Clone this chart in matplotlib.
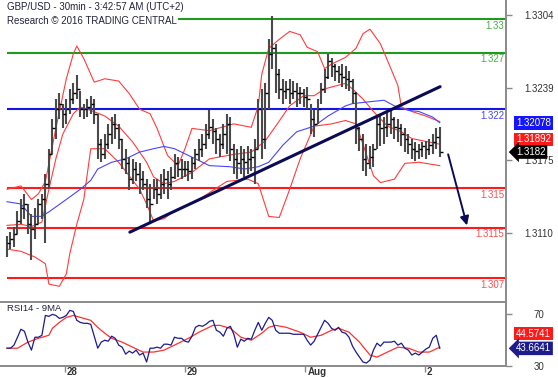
import matplotlib
matplotlib.use("Agg")
import matplotlib.pyplot as plt
import matplotlib.transforms as mtransforms
import numpy as np

plt.rcParams["font.family"] = ["Liberation Sans", "DejaVu Sans"]

# ---------------------------------------------------------------------------
# Price bars (30min GBP/USD)
# ---------------------------------------------------------------------------
high = [1.3108, 1.3111, 1.3116, 1.3130, 1.3140, 1.3145, 1.3136, 1.3127, 1.3132, 1.3140,
        1.3145, 1.3163, 1.3185, 1.3211, 1.3229, 1.3234, 1.3225, 1.3229, 1.3238, 1.3243,
        1.3250, 1.3236, 1.3225, 1.3229, 1.3232, 1.3229, 1.3216, 1.3194, 1.3198, 1.3207,
        1.3213, 1.3216, 1.3207, 1.3194, 1.3185, 1.3178, 1.3176, 1.3173, 1.3172, 1.3165,
        1.3158, 1.3154, 1.3158, 1.3158, 1.3163, 1.3167, 1.3165, 1.3169, 1.3180, 1.3178,
        1.3176, 1.3174, 1.3174, 1.3178, 1.3185, 1.3194, 1.3198, 1.3207, 1.3219, 1.3211,
        1.3203, 1.3198, 1.3207, 1.3216, 1.3213, 1.3189, 1.3185, 1.3187, 1.3185, 1.3187,
        1.3185, 1.3194, 1.3229, 1.3238, 1.3243, 1.3282, 1.3303, 1.3278, 1.3256, 1.3247,
        1.3245, 1.3247, 1.3245, 1.3243, 1.3240, 1.3238, 1.3240, 1.3225, 1.3219, 1.3229,
        1.3243, 1.3256, 1.3269, 1.3265, 1.3260, 1.3258, 1.3260, 1.3258, 1.3254, 1.3247,
        1.3235, 1.3204, 1.3198, 1.3189, 1.3187, 1.3189, 1.3213, 1.3216, 1.3213, 1.3218,
        1.3219, 1.3213, 1.3211, 1.3207, 1.3203, 1.3198, 1.3194, 1.3191, 1.3189, 1.3191,
        1.3192, 1.3194, 1.3198, 1.3203, 1.3204]
low = [1.3089, 1.3096, 1.3098, 1.3109, 1.3118, 1.3123, 1.3109, 1.3086, 1.3105, 1.3118,
       1.3123, 1.3101, 1.3149, 1.3180, 1.3194, 1.3211, 1.3203, 1.3207, 1.3216, 1.3225,
       1.3229, 1.3213, 1.3211, 1.3213, 1.3216, 1.3207, 1.3176, 1.3173, 1.3176, 1.3185,
       1.3189, 1.3194, 1.3185, 1.3167, 1.3163, 1.3148, 1.3154, 1.3156, 1.3145, 1.3148,
       1.3132, 1.3118, 1.3140, 1.3136, 1.3140, 1.3145, 1.3140, 1.3148, 1.3158, 1.3160,
       1.3158, 1.3160, 1.3156, 1.3158, 1.3167, 1.3174, 1.3178, 1.3185, 1.3194, 1.3189,
       1.3180, 1.3178, 1.3185, 1.3180, 1.3174, 1.3163, 1.3158, 1.3163, 1.3160, 1.3163,
       1.3165, 1.3154, 1.3185, 1.3176, 1.3185, 1.3220, 1.3256, 1.3234, 1.3229, 1.3225,
       1.3229, 1.3225, 1.3229, 1.3222, 1.3225, 1.3222, 1.3220, 1.3198, 1.3195, 1.3207,
       1.3225, 1.3234, 1.3247, 1.3249, 1.3245, 1.3243, 1.3240, 1.3238, 1.3236, 1.3225,
       1.3189, 1.3183, 1.3165, 1.3161, 1.3167, 1.3169, 1.3185, 1.3187, 1.3189, 1.3195,
       1.3198, 1.3194, 1.3191, 1.3187, 1.3182, 1.3180, 1.3176, 1.3174, 1.3176, 1.3178,
       1.3176, 1.3179, 1.3180, 1.3185, 1.3178]
close = [1.3101, 1.3105, 1.3109, 1.3121, 1.3132, 1.3136, 1.3118, 1.3114, 1.3118, 1.3136,
         1.3140, 1.3154, 1.3180, 1.3203, 1.3220, 1.3225, 1.3216, 1.3220, 1.3229, 1.3234,
         1.3238, 1.3220, 1.3220, 1.3222, 1.3225, 1.3216, 1.3189, 1.3180, 1.3189, 1.3198,
         1.3207, 1.3203, 1.3194, 1.3176, 1.3172, 1.3158, 1.3167, 1.3163, 1.3158, 1.3154,
         1.3140, 1.3136, 1.3149, 1.3145, 1.3154, 1.3158, 1.3154, 1.3160, 1.3172, 1.3167,
         1.3167, 1.3167, 1.3165, 1.3172, 1.3180, 1.3185, 1.3189, 1.3198, 1.3204, 1.3201,
         1.3194, 1.3189, 1.3198, 1.3207, 1.3185, 1.3176, 1.3172, 1.3176, 1.3173, 1.3176,
         1.3178, 1.3185, 1.3220, 1.3194, 1.3234, 1.3269, 1.3274, 1.3251, 1.3238, 1.3236,
         1.3238, 1.3234, 1.3236, 1.3234, 1.3234, 1.3231, 1.3229, 1.3211, 1.3207, 1.3220,
         1.3238, 1.3249, 1.3263, 1.3258, 1.3254, 1.3251, 1.3249, 1.3247, 1.3245, 1.3234,
         1.3203, 1.3194, 1.3176, 1.3172, 1.3178, 1.3185, 1.3207, 1.3203, 1.3204, 1.3207,
         1.3211, 1.3204, 1.3203, 1.3198, 1.3194, 1.3189, 1.3185, 1.3183, 1.3185, 1.3187,
         1.3185, 1.3188, 1.3191, 1.3195, 1.3182]

# Bollinger bands (red) and moving average (blue), sampled at bar positions
bb_up_idx = [0, 4, 7, 9, 11, 14, 17, 19, 20, 22, 25, 28, 32, 35, 38, 41, 43, 46, 49, 51,
             53, 58, 65, 70, 72, 73, 75, 78, 81, 84, 86, 89, 91, 93, 97, 100, 102, 104,
             107, 110, 112, 113, 116, 120, 124]
bb_up = [1.3149, 1.3152, 1.3140, 1.3145, 1.3156, 1.3203, 1.3247, 1.3269, 1.3276, 1.3265,
         1.3244, 1.3247, 1.3245, 1.3234, 1.3220, 1.3216, 1.3203, 1.3179, 1.3170, 1.3185,
         1.3203, 1.3201, 1.3207, 1.3204, 1.3223, 1.3251, 1.3274, 1.3282, 1.3289, 1.3286,
         1.3275, 1.3271, 1.3256, 1.3260, 1.3266, 1.3274, 1.3287, 1.3291, 1.3278, 1.3256,
         1.3241, 1.3222, 1.3218, 1.3214, 1.3209]
bb_mid_idx = [0, 4, 7, 10, 12, 14, 16, 19, 21, 24, 28, 32, 36, 40, 42, 45, 48, 53, 58, 65,
              70, 74, 77, 81, 85, 88, 91, 97, 99, 102, 105, 109, 113, 116, 124]
bb_mid = [1.3117, 1.3118, 1.3116, 1.3120, 1.3149, 1.3176, 1.3198, 1.3216, 1.3222, 1.3219,
          1.3214, 1.3205, 1.3191, 1.3173, 1.3160, 1.3154, 1.3156, 1.3164, 1.3176, 1.3180,
          1.3182, 1.3192, 1.3205, 1.3223, 1.3232, 1.3232, 1.3238, 1.3243, 1.3238, 1.3229,
          1.3218, 1.3205, 1.3200, 1.3194, 1.3189]
bb_lo_idx = [0, 4, 8, 11, 12, 15, 17, 18, 20, 22, 24, 28, 32, 35, 38, 40, 42, 45, 48, 51,
             55, 63, 69, 72, 75, 78, 81, 84, 88, 93, 97, 100, 102, 105, 107, 111, 114, 118, 124]
bb_lo = [1.3096, 1.3094, 1.3089, 1.3083, 1.3065, 1.3063, 1.3074, 1.3092, 1.3118, 1.3140,
         1.3185, 1.3185, 1.3173, 1.3161, 1.3149, 1.3136, 1.3121, 1.3123, 1.3130, 1.3134,
         1.3140, 1.3156, 1.3158, 1.3154, 1.3125, 1.3124, 1.3149, 1.3176, 1.3205, 1.3207,
         1.3210, 1.3207, 1.3189, 1.3161, 1.3155, 1.3158, 1.3172, 1.3173, 1.3170]
ma_idx = [0, 4, 7, 10, 12, 17, 21, 24, 26, 30, 34, 38, 42, 45, 48, 52, 58, 64, 68, 72,
          75, 79, 83, 88, 92, 97, 99, 105, 108, 111, 115, 118, 122, 124]
ma = [1.3138, 1.3136, 1.3125, 1.3125, 1.3129, 1.3140, 1.3149, 1.3157, 1.3167, 1.3173,
      1.3176, 1.3182, 1.3185, 1.3187, 1.3185, 1.3179, 1.3170, 1.3169, 1.3167, 1.3169,
      1.3173, 1.3188, 1.3200, 1.3205, 1.3214, 1.3223, 1.3225, 1.3227, 1.3228, 1.3223,
      1.3219, 1.3218, 1.3213, 1.3208]

# Support / resistance levels
level_values = [1.3300, 1.3270, 1.3220, 1.3150, 1.3115, 1.3070]
level_labels = ["1.33", "1.327", "1.322", "1.315", "1.3115", "1.307"]
level_colors = ["#1f9a1f", "#1f9a1f", "#1414e6", "#ff1a1a", "#ff1a1a", "#ff1a1a"]
level_text_colors = ["#46b046", "#46b046", "#4646ff", "#ff5050", "#ff5050", "#ff5050"]

# Trend line and projection arrow
trend_idx = [35.2, 124.1]
trend_price = [1.3111, 1.3240]
arrow_idx = [126.4, 131.8]
arrow_price = [1.3180, 1.3117]

# Right-hand value tags
last_ma, last_mid, last_price = "1.32078", "1.31892", "1.3182"
price_ticks = [1.3304, 1.3239, 1.3175, 1.3110]

# RSI(14) and its 9-period MA
rsi = [43.8, 43.8, 46.2, 52.3, 58.5, 56.9, 48.5, 42.3, 52.3, 52.3,
       53.8, 69.2, 68.5, 70.0, 69.2, 66.9, 67.7, 69.2, 73.1, 72.3,
       65.4, 63.8, 63.1, 63.1, 62.3, 53.1, 43.8, 48.5, 50.0, 49.2,
       53.1, 51.5, 46.2, 44.6, 39.2, 41.5, 40.0, 42.3, 38.5, 40.0,
       33.1, 43.8, 43.8, 44.6, 43.8, 46.9, 46.9, 46.2, 52.3, 51.5,
       51.5, 49.2, 48.5, 53.1, 60.0, 61.5, 60.8, 62.3, 64.6, 65.4,
       57.7, 56.2, 53.1, 59.2, 60.8, 54.6, 44.6, 50.8, 49.2, 51.5,
       50.8, 57.7, 63.8, 57.7, 63.1, 67.7, 65.4, 57.7, 55.4, 55.4,
       55.4, 55.4, 54.6, 54.6, 54.6, 54.6, 50.0, 46.2, 49.2, 54.6,
       60.0, 65.4, 63.1, 59.2, 57.7, 60.0, 56.2, 55.4, 52.3, 45.4,
       40.8, 36.9, 33.1, 32.3, 34.6, 42.3, 47.7, 45.4, 48.5, 48.5,
       48.5, 49.2, 46.2, 47.7, 43.8, 42.3, 38.5, 40.0, 38.5, 40.8,
       43.1, 44.6, 51.5, 53.8, 43.7]
rsi_ma_idx = [0, 3, 6, 9, 12, 13, 15, 17, 19, 21, 24, 26, 28, 30, 33, 36, 39, 42, 45, 48,
              52, 55, 59, 61, 64, 67, 70, 73, 75, 77, 80, 84, 87, 90, 93, 95, 98, 101,
              104, 106, 109, 112, 115, 118, 121, 124]
rsi_ma = [43.8, 43.8, 48.5, 51.5, 53.8, 59.2, 63.8, 67.7, 69.2, 67.7, 65.4, 60.0, 55.4,
          51.5, 48.5, 44.6, 40.8, 40.8, 42.3, 46.2, 51.5, 56.2, 61.5, 61.5, 59.2, 52.3,
          50.0, 55.4, 60.0, 61.5, 60.0, 56.2, 52.3, 53.8, 57.7, 59.2, 56.2, 48.5, 38.5,
          36.9, 40.8, 44.6, 43.8, 40.8, 40.8, 44.6]
rsi_ticks = [30, 70]
last_rsi_ma, last_rsi = "44.5741", "43.6641"

# Day separators on the time axis (bar positions)
day_ticks = [16.6, 51.0, 85.5, 119.8]
day_labels = ["28", "29", "Aug", "2"]

# ---------------------------------------------------------------------------
# Figure
# ---------------------------------------------------------------------------
W, H = 558, 378
fig = plt.figure(figsize=(W / 100, H / 100), dpi=100)
ax = fig.add_axes([0, (H - 301.5) / H, 506 / W, 301.5 / H])
ax_rsi = fig.add_axes([0, (H - 366) / H, 506 / W, 64.5 / H], sharex=ax)

spine_col = "#8a8a8a"
idx = np.arange(len(close))

# levels
for v, c in zip(level_values, level_colors):
    ax.hlines(v, idx[0], 143, colors=c, lw=1.5, zorder=1)
ltrans = mtransforms.offset_copy(
    mtransforms.blended_transform_factory(ax.transAxes, ax.transData),
    fig=fig, x=-2, y=-1.5, units="dots")
for v, t, c in zip(level_values, level_labels, level_text_colors):
    ax.text(1.0, v, t, transform=ltrans, ha="right", va="top", fontsize=7, color=c, zorder=6)

# indicators
ax.plot(bb_up_idx, bb_up, color="#ff3c3c", lw=0.8, zorder=2)
ax.plot(bb_mid_idx, bb_mid, color="#ff3c3c", lw=0.8, zorder=2)
ax.plot(bb_lo_idx, bb_lo, color="#ff3c3c", lw=0.8, zorder=2)
ax.plot(ma_idx, ma, color="#4646ff", lw=0.8, zorder=2)

# bars
ax.vlines(idx, low, high, color="#4a4a4a", lw=1.5, zorder=3)
ax.plot(idx, close, ls="none", marker=1, ms=2.2, mew=1.0, color="black", zorder=3)

# trend line + arrow
ax.plot(trend_idx, trend_price, color="#0b0b55", lw=2.2, solid_capstyle="round", zorder=4)
ax.annotate("", xy=(arrow_idx[1], arrow_price[1]), xytext=(arrow_idx[0], arrow_price[0]),
            arrowprops=dict(arrowstyle="-|>", color="#0b0b55", lw=1.4, mutation_scale=13,
                            shrinkA=0, shrinkB=0), zorder=4)

ax.set_xlim(-7 / 3.49, 499 / 3.49)
ax.set_ylim(1.3304 - 287 / 11278, 1.3304 + 14.5 / 11278)

# axes cosmetics
for a in (ax, ax_rsi):
    a.spines["left"].set_visible(False)
    a.spines["right"].set_color(spine_col)
    a.spines["right"].set_linewidth(1.4)
    a.yaxis.tick_right()
    a.tick_params(axis="y", length=4, width=1, color=spine_col, labelsize=7,
                  labelcolor="#333333", pad=19.5)
ax.spines["top"].set_visible(False)
ax.spines["bottom"].set_visible(False)
ax.tick_params(axis="x", bottom=False, labelbottom=False)
ax.set_yticks(price_ticks)
ax.set_yticklabels([f"{p:.4f}" for p in price_ticks])
for lbl in ax.get_yticklabels():
    lbl.set_horizontalalignment("center")

for s in ("top", "bottom"):
    ax_rsi.spines[s].set_color(spine_col)
    ax_rsi.spines[s].set_linewidth(1.4)
ax_rsi.set_ylim(30, 80)
ax_rsi.set_yticks(rsi_ticks)
ax_rsi.set_yticklabels([str(t) for t in rsi_ticks])
for lbl in ax_rsi.get_yticklabels():
    lbl.set_horizontalalignment("center")
ax_rsi.set_xticks(day_ticks)
ax_rsi.set_xticklabels([""] * len(day_ticks))
ax_rsi.tick_params(axis="x", length=4, width=1, color=spine_col)
dtrans = mtransforms.offset_copy(
    mtransforms.blended_transform_factory(ax_rsi.transData, ax_rsi.transAxes),
    fig=fig, x=2, y=-1.0, units="dots")
for d, t in zip(day_ticks, day_labels):
    ax_rsi.text(d, 0, t, transform=dtrans, ha="left", va="top", fontsize=7,
                fontweight="bold", color="#333333", clip_on=False)

# RSI lines
ax_rsi.plot(idx, rsi, color="#1c1c8c", lw=0.9, zorder=3)
ax_rsi.plot(rsi_ma_idx, rsi_ma, color="#ff3030", lw=0.9, zorder=2)


def value_tag(axis, y, txt, fc, dy=0, arrow=False):
    trans = mtransforms.offset_copy(
        mtransforms.blended_transform_factory(axis.transAxes, axis.transData),
        fig=fig, x=0, y=dy, units="dots")
    style = "larrow,pad=0.18" if arrow else "square,pad=0.18"
    axis.text(1.0 + 10 / 506, y, txt, transform=trans, ha="left", va="center",
              fontsize=7, color="white", clip_on=False, zorder=10,
              bbox=dict(boxstyle=style, fc=fc, ec="none"))


value_tag(ax, float(last_ma), last_ma, "#1414ff")
value_tag(ax, float(last_mid), last_mid, "#ff1a1a", dy=4.5)
value_tag(ax, float(last_price), last_price, "black", arrow=True)
value_tag(ax_rsi, float(last_rsi_ma), last_rsi_ma, "#ff1a1a", dy=13.5)
value_tag(ax_rsi, float(last_rsi), last_rsi, "#1c1c8c", arrow=True)

# header texts
hdr = dict(fontsize=7, color="#22223c", va="top", ha="left",
           bbox=dict(fc="white", ec="none", pad=0.6))
fig.text(7 / W, 1 - 2.5 / H, "GBP/USD - 30min - 3:42:57 AM (UTC+2)", **hdr)
fig.text(7 / W, 1 - 15.5 / H, "Research \u00a9 2016 TRADING CENTRAL", **hdr)
fig.text(7 / W, 1 - 304 / H, "RSI14 - 9MA", fontsize=6.8, color="#22223c", va="top",
         ha="left", bbox=dict(fc="white", ec="none", pad=0.3))

fig.savefig("out.png", dpi=100)
